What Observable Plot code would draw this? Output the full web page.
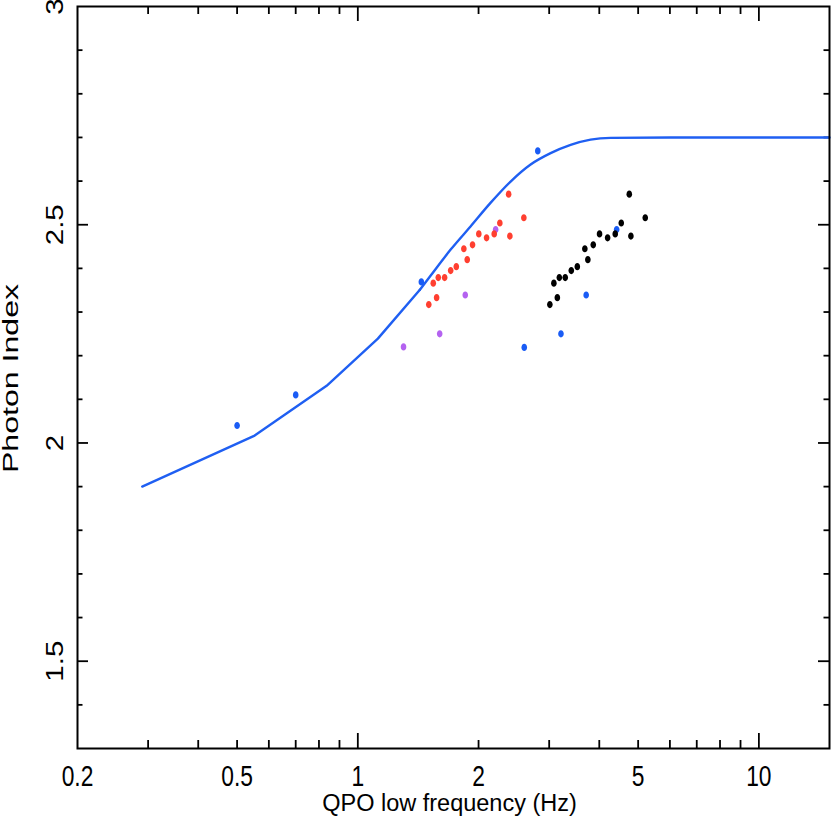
<!DOCTYPE html>
<html>
<head>
<meta charset="utf-8">
<script src="https://cdn.jsdelivr.net/npm/d3@7"></script>
<script src="https://cdn.jsdelivr.net/npm/@observablehq/plot@0.6"></script>
<style>
  html, body { margin: 0; padding: 0; background: #fff; overflow: hidden; }
</style>
</head>
<body>
<div id="chart"></div>
<script>
// ---- data ----
const curveLowF = [0.29, 0.553, 0.836, 1.122, 1.428];
const curveLowY = [1.90, 2.017, 2.131, 2.239, 2.351];
const curveHighF = [1.428, 1.518, 1.704, 1.91, 2.142, 2.404, 2.697, 3.025, 3.393, 3.805, 4.27, 6.02, 15];
const curveHighY = [2.351, 2.383, 2.443, 2.496, 2.550, 2.599, 2.638, 2.664, 2.683, 2.695, 2.699, 2.700, 2.700];

const blueF = [0.50, 0.70, 1.44, 2.81, 2.60, 3.21, 3.71, 4.42];
const blueY = [2.040, 2.110, 2.369, 2.669, 2.219, 2.250, 2.339, 2.489];

const purpleF = [1.30, 1.60, 1.853, 2.206];
const purpleY = [2.220, 2.250, 2.339, 2.489];

const redF = [1.503, 1.542, 1.572, 1.587, 1.646, 1.704, 1.760, 1.838, 1.874, 1.932, 2.003, 2.094, 2.188, 2.26, 2.377, 2.394, 2.594];
const redY = [2.317, 2.366, 2.333, 2.379, 2.379, 2.395, 2.404, 2.445, 2.420, 2.454, 2.479, 2.470, 2.479, 2.504, 2.570, 2.474, 2.516];

const blackF = [3.012, 3.082, 3.144, 3.18, 3.29, 3.406, 3.526, 3.682, 3.746, 3.864, 4.006, 4.196, 4.384, 4.538, 4.752, 4.796, 5.208];
const blackY = [2.317, 2.366, 2.333, 2.379, 2.379, 2.395, 2.404, 2.445, 2.420, 2.454, 2.479, 2.470, 2.479, 2.504, 2.570, 2.474, 2.516];

const xTickLabels = [0.2, 0.5, 1, 2, 5, 10];
const xMajorTicks = [1, 10];
const xMinorTicks = [0.3, 0.4, 0.5, 0.6, 0.7, 0.8, 0.9, 2, 3, 4, 5, 6, 7, 8, 9];
const yTickLabels = [1.5, 2, 2.5, 3];
const yMajorTicks = [1.5, 2, 2.5];
const yMinorTicks = [1.4, 1.6, 1.7, 1.8, 1.9, 2.1, 2.2, 2.3, 2.4, 2.6, 2.7, 2.8, 2.9];

const xLabel = "QPO low frequency (Hz)";
const yLabel = "Photon Index";

// ---- build tables ----
const zip = (xs, ys) => xs.map((x, i) => ({x, y: ys[i]}));
const curveLow = zip(curveLowF, curveLowY);
const curveHigh = zip(curveHighF, curveHighY);
const blue = zip(blueF, blueY);
const purple = zip(purpleF, purpleY);
const red = zip(redF, redY);
const black = zip(blackF, blackY);

// small vertical ellipse symbol
const ellipse = {
  draw(ctx) {
    const rx = 2.8, ry = 3.6, k = 0.5523;
    ctx.moveTo(rx, 0);
    ctx.bezierCurveTo(rx, ry * k, rx * k, ry, 0, ry);
    ctx.bezierCurveTo(-rx * k, ry, -rx, ry * k, -rx, 0);
    ctx.bezierCurveTo(-rx, -ry * k, -rx * k, -ry, 0, -ry);
    ctx.bezierCurveTo(rx * k, -ry, rx, -ry * k, rx, 0);
    ctx.closePath();
  }
};

const W = 831, H = 831;
const mL = 77, mR = 2, mT = 6, mB = 83;
const fw = W - mL - mR, fh = H - mT - mB;
const font = "Liberation Sans, Arial, Helvetica, sans-serif";
const lineColor = "#1f5ff2";

const dotMark = (data, color) => Plot.dot(data, {x: "x", y: "y", fill: color, stroke: "none", symbol: ellipse, r: 3});

const chart = Plot.plot({
  width: W,
  height: H,
  marginLeft: mL,
  marginRight: mR,
  marginTop: mT,
  marginBottom: mB,
  style: {fontFamily: font, background: "#fff", overflow: "visible"},
  x: {type: "log", domain: [0.2, 15], axis: null},
  y: {type: "linear", domain: [1.3, 3], axis: null},
  marks: [
    // ticks (inward, all four sides)
    Plot.tickX(xMajorTicks, {x: d => d, stroke: "black", strokeWidth: 1.8, insetTop: fh - 15}),
    Plot.tickX(xMinorTicks, {x: d => d, stroke: "black", strokeWidth: 1.8, insetTop: fh - 8}),
    Plot.tickX(xMajorTicks, {x: d => d, stroke: "black", strokeWidth: 1.8, insetBottom: fh - 15}),
    Plot.tickX(xMinorTicks, {x: d => d, stroke: "black", strokeWidth: 1.8, insetBottom: fh - 8}),
    Plot.tickY(yMajorTicks, {y: d => d, stroke: "black", strokeWidth: 1.8, insetRight: fw - 11}),
    Plot.tickY(yMinorTicks, {y: d => d, stroke: "black", strokeWidth: 1.8, insetRight: fw - 5.5}),
    Plot.tickY(yMajorTicks, {y: d => d, stroke: "black", strokeWidth: 1.8, insetLeft: fw - 11}),
    Plot.tickY(yMinorTicks, {y: d => d, stroke: "black", strokeWidth: 1.8, insetLeft: fw - 5.5}),
    // model curve
    Plot.line(curveLow, {x: "x", y: "y", stroke: lineColor, strokeWidth: 2.4, curve: "linear"}),
    Plot.line(curveHigh, {x: "x", y: "y", stroke: lineColor, strokeWidth: 2.4, curve: "monotone-x"}),
    // data
    dotMark(blue, "#1a5cf5"),
    dotMark(purple, "#b462f0"),
    dotMark(red, "#ff3f30"),
    dotMark(black, "#000000"),
    // frame
    Plot.frame({stroke: "black", strokeWidth: 2}),
    // tick labels (text mark #1)
    Plot.text(xTickLabels, {
      x: d => d, text: d => String(d), frameAnchor: "bottom", dy: 37,
      lineAnchor: "bottom", textAnchor: "middle", fontSize: 30, fill: "black"
    }),
    // (text mark #2)
    Plot.text(yTickLabels, {
      y: d => d, text: d => String(d), frameAnchor: "left", dx: -15, rotate: -90,
      lineAnchor: "bottom", textAnchor: "middle", fontSize: 23, fill: "black"
    }),
    // axis titles (text marks #3, #4)
    Plot.text([xLabel], {
      text: d => d, frameAnchor: "bottom", dy: 62, dx: -4,
      lineAnchor: "bottom", textAnchor: "middle", fontSize: 23.5, fill: "black"
    }),
    Plot.text([yLabel], {
      text: d => d, frameAnchor: "left", dx: -60, dy: 1, rotate: -90,
      lineAnchor: "bottom", textAnchor: "middle", fontSize: 22, fill: "black"
    })
  ]
});

// stretch / condense glyphs about their anchor to mimic the reference font proportions
function scaleTexts(group, sx, sy) {
  if (!group) return;
  group.querySelectorAll("text").forEach(t => {
    let tr = t.getAttribute("transform");
    if (!tr) {
      const x = t.getAttribute("x") || 0, y = t.getAttribute("y") || 0;
      t.removeAttribute("x"); t.removeAttribute("y");
      tr = `translate(${x},${y})`;
    }
    t.setAttribute("transform", `${tr} scale(${sx},${sy})`);
  });
}
const textGroups = Array.from(chart.querySelectorAll("g")).filter(g => g.querySelector(":scope > text"));
scaleTexts(textGroups[0], 0.76, 1);
scaleTexts(textGroups[1], 1.28, 1);
scaleTexts(textGroups[3], 1.46, 1);

document.getElementById("chart").appendChild(chart);
</script>
</body>
</html>
